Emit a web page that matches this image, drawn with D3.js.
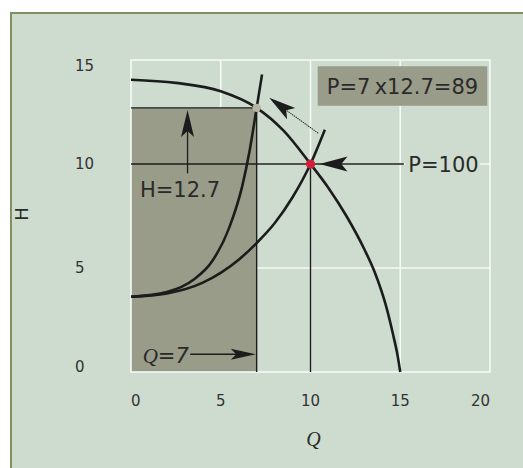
<!DOCTYPE html>
<html>
<head>
<meta charset="utf-8">
<script src="https://cdn.jsdelivr.net/npm/d3@7"></script>
<style>
  html, body { margin: 0; padding: 0; background: #ffffff; }
  svg { display: block; }
</style>
</head>
<body>
<svg id="chart" width="523" height="468"></svg>
<script>
// Axis ticks
const qTicks = [0, 5, 10, 15, 20];
const hTicks = [0, 5, 10, 15];

// Pump curve (head falls with flow)
const pumpQ = [0, 2.5, 5, 7, 8.5, 10, 11, 12, 13, 13.6, 14.2, 14.6, 14.85, 15];
const pumpH = [14.05, 13.9, 13.5, 12.7, 11.6, 10.0, 8.85, 7.5, 5.9, 4.75, 3.2, 1.8, 0.8, 0];

// System curve through the full-power operating point
const sys1Q = [0, 2, 4, 6, 7, 8, 9, 10, 10.8];
const sys1H = [3.62, 3.78, 4.3, 5.4, 6.2, 7.15, 8.4, 10, 11.65];

// Throttled (steeper) system curve
const sys2Q = [0, 2, 3.5, 4.5, 5.5, 6.2, 6.6, 7.0, 7.3];
const sys2H = [3.62, 3.85, 4.45, 5.3, 7.0, 8.95, 10.6, 12.7, 14.3];

// Operating points
const fullPoint = { q: 10, h: 10 };
const throttledPoint = { q: 7, h: 12.7 };

// Annotation texts
const boxLabel = "P=7\u2009x12.7=89";
const fullLabel = "P=100";
const headLabel = "H=12.7";
const flowLabelValue = "=7";

const svg = d3.select("#chart");
const W = 523, H = 468;

const x = d3.scaleLinear().domain([0, 20]).range([131, 490]);
const y = d3.scaleLinear().domain([0, 15]).range([372, 60]);

const ink = "#1c1c1c";
const textCol = "#2a2a2a";
const panelCol = "#cddccf";
const shadeCol = "#999c89";
const gridCol = "#f6f9f5";

// Panel with olive frame
svg.append("rect").attr("x", 0).attr("y", 0).attr("width", W).attr("height", H).attr("fill", "#ffffff");
svg.append("rect")
  .attr("x", 11).attr("y", 13).attr("width", 540).attr("height", 480)
  .attr("fill", panelCol).attr("stroke", "#7f9163").attr("stroke-width", 2);

// Interior grid lines
const g = svg.append("g");
g.selectAll("line.vg").data(qTicks.slice(1, -1)).join("line")
  .attr("x1", d => x(d)).attr("x2", d => x(d))
  .attr("y1", y(0)).attr("y2", y(15))
  .attr("stroke", gridCol).attr("stroke-width", 1.6);
g.selectAll("line.hg").data(hTicks.slice(1, -1)).join("line")
  .attr("x1", x(0)).attr("x2", x(20))
  .attr("y1", d => y(d)).attr("y2", d => y(d))
  .attr("stroke", gridCol).attr("stroke-width", 1.6);

// Shaded power rectangle Q x H
g.append("rect")
  .attr("x", x(0)).attr("y", y(throttledPoint.h))
  .attr("width", x(throttledPoint.q) - x(0))
  .attr("height", y(0) - y(throttledPoint.h))
  .attr("fill", shadeCol);

// Outer grid border
g.append("rect")
  .attr("x", x(0)).attr("y", y(15))
  .attr("width", x(20) - x(0)).attr("height", y(0) - y(15))
  .attr("fill", "none").attr("stroke", gridCol).attr("stroke-width", 1.6);

// Reference lines
const thin = 1.4;
g.append("line").attr("x1", x(0)).attr("x2", x(throttledPoint.q))
  .attr("y1", y(throttledPoint.h)).attr("y2", y(throttledPoint.h))
  .attr("stroke", ink).attr("stroke-width", thin);
g.append("line").attr("x1", x(throttledPoint.q)).attr("x2", x(throttledPoint.q))
  .attr("y1", y(0)).attr("y2", y(throttledPoint.h))
  .attr("stroke", ink).attr("stroke-width", thin);
g.append("line").attr("x1", x(fullPoint.q)).attr("x2", x(fullPoint.q))
  .attr("y1", y(0)).attr("y2", y(fullPoint.h))
  .attr("stroke", ink).attr("stroke-width", thin);
g.append("line").attr("x1", x(0)).attr("x2", x(15.2))
  .attr("y1", y(fullPoint.h)).attr("y2", y(fullPoint.h))
  .attr("stroke", ink).attr("stroke-width", thin);

// Curves
const line = d3.line().x(d => x(d[0])).y(d => y(d[1])).curve(d3.curveMonotoneX);
const curves = [
  d3.zip(pumpQ, pumpH),
  d3.zip(sys1Q, sys1H),
  d3.zip(sys2Q, sys2H)
];
g.selectAll("path.curve").data(curves).join("path")
  .attr("d", line)
  .attr("fill", "none").attr("stroke", ink).attr("stroke-width", 2.6)
  .attr("stroke-linecap", "butt");

// Arrowhead helper: tip position, direction, length, half-width
function arrowHead(tx, ty, dx, dy, L, hw) {
  const n = Math.hypot(dx, dy); dx /= n; dy /= n;
  const px = -dy, py = dx;
  const bx = tx - dx * L, by = ty - dy * L;
  const nx = tx - dx * L * 0.78, ny = ty - dy * L * 0.78;
  return `M${tx},${ty}L${bx + px * hw},${by + py * hw}L${nx},${ny}L${bx - px * hw},${by - py * hw}Z`;
}

// Arrow into the full-power point
g.append("path")
  .attr("d", arrowHead(x(10.5), y(fullPoint.h), -1, 0, 28, 7.5))
  .attr("fill", ink);

// Arrow marking the head value
const hArrowQ = 3.15;
g.append("line").attr("x1", x(hArrowQ)).attr("x2", x(hArrowQ))
  .attr("y1", y(9.55)).attr("y2", y(12.0))
  .attr("stroke", ink).attr("stroke-width", 1.3);
g.append("path")
  .attr("d", arrowHead(x(hArrowQ), y(12.6), 0, -1, 27, 6.5))
  .attr("fill", ink);

// Arrow marking the flow value
const qArrowH = 0.85;
g.append("line").attr("x1", x(3.3)).attr("x2", x(6.2))
  .attr("y1", y(qArrowH)).attr("y2", y(qArrowH))
  .attr("stroke", ink).attr("stroke-width", 1.5);
g.append("path")
  .attr("d", arrowHead(x(6.95), y(qArrowH), 1, 0, 25, 5.5))
  .attr("fill", ink);

// Diagonal arrow showing the move along the pump curve
const diagTail = [10.43, 11.48], diagTip = [7.7, 13.18];
const dtx = x(diagTip[0]), dty = y(diagTip[1]);
const dfx = x(diagTail[0]), dfy = y(diagTail[1]);
const dlen = Math.hypot(dfx - dtx, dfy - dty);
const baseT = 22 / dlen;
g.append("line").attr("x1", dfx).attr("y1", dfy)
  .attr("x2", dtx + (dfx - dtx) * baseT).attr("y2", dty + (dfy - dty) * baseT)
  .attr("stroke", "#2e2e2e").attr("stroke-width", 1.1)
  .attr("stroke-dasharray", "1.4,0.8");
g.append("path")
  .attr("d", arrowHead(dtx, dty, dtx - dfx, dty - dfy, 27, 7))
  .attr("fill", ink);

// Operating points
g.append("circle").attr("cx", x(throttledPoint.q)).attr("cy", y(throttledPoint.h))
  .attr("r", 4.2).attr("fill", "#b3b6a3");
g.append("circle").attr("cx", x(fullPoint.q)).attr("cy", y(fullPoint.h))
  .attr("r", 4.6).attr("fill", "#d21f3c");

// Annotation box
const boxQ0 = 10.4, boxQ1 = 19.85, boxH0 = 12.8, boxH1 = 14.7;
g.append("rect")
  .attr("x", x(boxQ0)).attr("y", y(boxH1))
  .attr("width", x(boxQ1) - x(boxQ0)).attr("height", y(boxH0) - y(boxH1))
  .attr("fill", "#9a9c8a");
g.append("text")
  .attr("x", (x(boxQ0) + x(boxQ1)) / 2).attr("y", y((boxH0 + boxH1) / 2))
  .attr("dy", "0.36em").attr("text-anchor", "middle")
  .attr("font-family", "DejaVu Sans").attr("font-size", 21)
  .attr("fill", textCol).text(boxLabel);

// Full-power label with a gap in the grid behind it
const fullLabelNode = g.append("text")
  .attr("x", x(15.45)).attr("y", y(fullPoint.h)).attr("dy", "0.36em")
  .attr("font-family", "DejaVu Sans").attr("font-size", 21)
  .attr("fill", textCol).text(fullLabel);
const bb = fullLabelNode.node().getBBox();
g.insert("rect", () => fullLabelNode.node())
  .attr("x", bb.x - 3).attr("y", y(fullPoint.h) - 3)
  .attr("width", bb.width + 4).attr("height", 6)
  .attr("fill", panelCol);

g.append("text")
  .attr("x", x(0.5)).attr("y", y(8.8)).attr("dy", "0.36em")
  .attr("font-family", "DejaVu Sans").attr("font-size", 21)
  .attr("fill", textCol).text(headLabel);

const qLab = g.append("text")
  .attr("x", x(0.65)).attr("y", y(0.82)).attr("dy", "0.36em")
  .attr("fill", textCol).attr("font-size", 21);
qLab.append("tspan").attr("font-family", "Liberation Serif").attr("font-style", "italic").text("Q");
qLab.append("tspan").attr("font-family", "DejaVu Sans").attr("font-style", "oblique").text(flowLabelValue);

// Tick labels
const tickFont = { family: "DejaVu Sans", size: 15 };
svg.append("g").selectAll("text").data(qTicks).join("text")
  .attr("x", d => x(d)).attr("y", 401).attr("dy", "0.36em")
  .attr("text-anchor", (d, i) => i === 0 ? "start" : i === qTicks.length - 1 ? "end" : "middle")
  .attr("font-family", tickFont.family).attr("font-size", tickFont.size)
  .attr("fill", "#333").text(d => d);
svg.append("g").selectAll("text").data(hTicks).join("text")
  .attr("x", 75).attr("y", d => y(d))
  .attr("dy", (d, i) => i === 0 ? "0" : i === hTicks.length - 1 ? "0.76em" : "0.36em")
  .attr("font-family", tickFont.family).attr("font-size", tickFont.size)
  .attr("fill", "#333").text(d => d);

// Axis titles
svg.append("text")
  .attr("x", (x(0) + x(20)) / 2 + 3).attr("y", 446)
  .attr("text-anchor", "middle")
  .attr("font-family", "Liberation Serif").attr("font-style", "italic")
  .attr("font-size", 20).attr("fill", textCol).text("Q");
svg.append("text")
  .attr("transform", "translate(28,214) rotate(-90)")
  .attr("text-anchor", "middle")
  .attr("font-family", "DejaVu Sans").attr("font-size", 18)
  .attr("fill", textCol).text("H");
</script>
</body>
</html>
